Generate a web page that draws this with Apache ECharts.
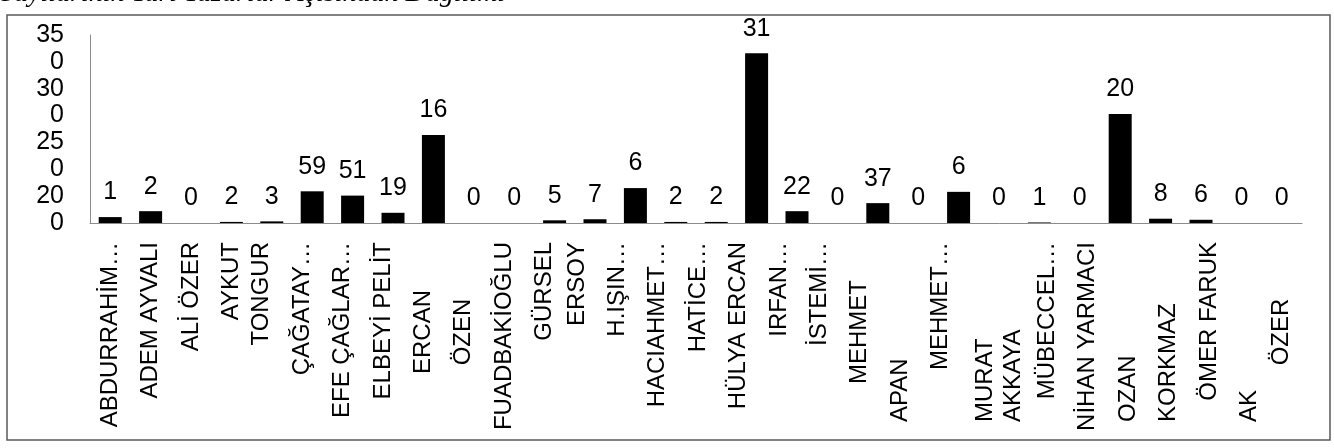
<!DOCTYPE html>
<html>
<head>
<meta charset="utf-8">
<script src="https://cdn.jsdelivr.net/npm/echarts@6/dist/echarts.min.js"></script>
<style>
html,body{margin:0;padding:0;background:#fff;}
#chart{width:1334px;height:448px;}
</style>
</head>
<body>
<div id="chart"></div>
<script>
// Category names (as shown, wrapped/truncated like the reference)
const categories = [
  "ABDURRAHİM…","ADEM AYVALI","ALİ ÖZER","AYKUT","TONGUR","ÇAĞATAY…","EFE ÇAĞLAR…","ELBEYİ PELİT",
  "ERCAN","ÖZEN","FUADBAKİOĞLU","GÜRSEL","ERSOY","H.IŞIN…","HACIAHMET…","HATİCE…","HÜLYA ERCAN",
  "IRFAN…","İSTEMİ…","MEHMET","APAN","MEHMET…","MURAT\nAKKAYA","MÜBECCEL…","NİHAN YARMACI",
  "OZAN","KORKMAZ","ÖMER FARUK","AK","ÖZER"
];
// Bar values
const values = [11,22,0,2,3,59,51,19,164,0,0,5,7,65,2,2,316,22,0,37,0,58,0,1,0,203,8,6,0,0];
// Data label texts as displayed in the reference
const valueLabels = ["1","2","0","2","3","59","51","19","16","0","0","5","7","6","2","2","31","22","0","37","0","6","0","1","0","20","8","6","0","0"];
// Value axis tick labels as displayed (bottom to top)
const yTickLabels = ["0","20","0","25","0","30","0","35"];
const titleText = "Sayılarının Yarı Yazarlar Açısından Dağılımı";

// ---- label styling (not data) ----
const lowLabels = ["OZAN","KORKMAZ","AK","MURAT\nAKKAYA","APAN"];
const midLabels = ["ERCAN","ÖZEN","MEHMET","ÖZER"];
const FONT = "'Liberation Sans', Arial, sans-serif";
const BOX = 180;
function shiftKey(i) {
  if (i >= 4 && i <= 11) return 'a';
  if (i >= 12 && i <= 21) return 'b';
  if (i >= 23 && i <= 28) return 'c';
  return 'z';
}
const shiftPx = {a: -10, b: -18, c: 8, z: 0};
const rich = {};
['n', 'low', 'mid'].forEach(function (g) {
  Object.keys(shiftPx).forEach(function (k) {
    const s = shiftPx[k];
    const st = {fontSize: 24, fontFamily: FONT, color: '#000', lineHeight: 28,
                padding: [s > 0 ? 2 * s : 0, 0, s < 0 ? -2 * s : 0, 0]};
    if (g === 'low') { st.width = BOX; st.align = 'left'; }
    if (g === 'mid') { st.width = BOX; st.align = 'center'; }
    rich[g + k] = st;
  });
});

const chart = echarts.init(document.getElementById('chart'), null, {renderer:'canvas'});
const option = {
  animation: false,
  backgroundColor: '#ffffff',
  grid: {left: 90, right: 32, top: 35, bottom: 225, containLabel: false},
  xAxis: {
    type: 'category',
    data: categories,
    axisLine: {show: true, lineStyle: {color: '#8c8c8c', width: 1}},
    axisTick: {show: false},
    axisLabel: {
      interval: 0, rotate: 90, margin: 19,
      color: '#000', fontSize: 24, fontFamily: FONT, lineHeight: 28,
      formatter: function (v, i) {
        let g = 'n';
        if (lowLabels.indexOf(v) >= 0) g = 'low';
        else if (midLabels.indexOf(v) >= 0) g = 'mid';
        const key = g + (v.indexOf('\n') >= 0 ? 'z' : shiftKey(i));
        return v.split('\n').map(function (l) { return '{' + key + '|' + l + '}'; }).join('\n');
      },
      rich: rich
    }
  },
  yAxis: {
    type: 'value', min: 0, max: 350, interval: 50,
    axisLine: {show: true, lineStyle: {color: '#8c8c8c', width: 1}},
    axisTick: {show: false},
    splitLine: {show: false},
    axisLabel: {
      margin: 26, color: '#000', fontSize: 25, fontFamily: FONT,
      formatter: function (v) { return yTickLabels[Math.round(v / 50)]; }
    }
  },
  series: [{
    type: 'bar',
    data: values,
    barWidth: 23,
    itemStyle: {color: '#000'},
    label: {
      show: true, position: 'top', distance: 12,
      color: '#000', fontSize: 25, fontFamily: FONT,
      formatter: function (p) { return valueLabels[p.dataIndex]; }
    }
  }],
  graphic: [
    {type: 'rect', shape: {x: 7, y: 15, width: 1323, height: 425},
     style: {fill: 'none', stroke: '#595959', lineWidth: 1.5}, silent: true},
    {type: 'text', x: 0, y: -6, silent: true,
     style: {text: titleText, x: 0, y: 0, verticalAlign: 'middle', align: 'left',
             font: "italic 28px 'Liberation Serif', 'Times New Roman', serif", fill: '#000'}}
  ]
};
chart.setOption(option);
</script>
</body>
</html>
